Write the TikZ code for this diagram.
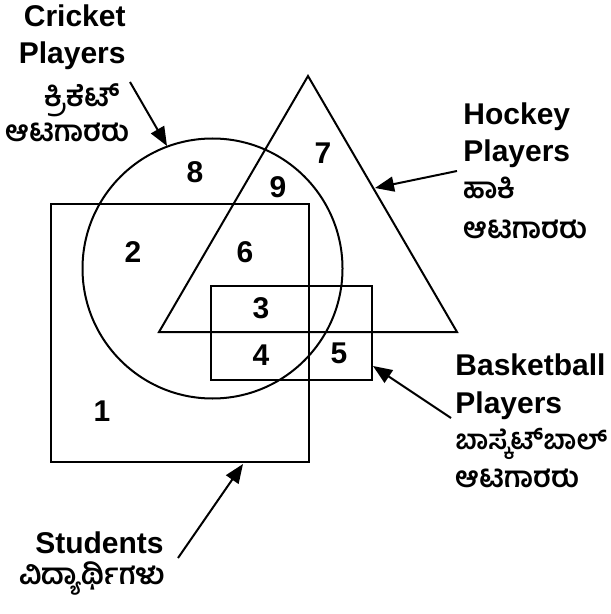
\documentclass[tikz,border=0pt]{standalone}
\usepackage{fontspec}
\setmainfont{Liberation Sans}
\newfontfamily\kanfont[Script=Kannada]{Hind Mysuru}
\usetikzlibrary{arrows.meta}

\tikzset{
  region/.style={line width=1pt},
  num/.style={font=\fontsize{15}{18}\selectfont\bfseries, inner sep=0pt},
  eng/.style={font=\fontsize{15}{18}\selectfont\bfseries, inner sep=0pt},
  kan/.style={font=\fontsize{14.5}{17}\selectfont\kanfont\bfseries, inner sep=0pt},
  pointer/.style={line width=1pt, -{Triangle[length=9.5pt,width=7.5pt]}}
}

\begin{document}
\begin{tikzpicture}[x=0.5pt,y=-0.5pt]
    \useasboundingbox (0,0) rectangle (610,614);

    % Sets
    \draw[region] (51,204) rectangle (309,462);          % students
    \draw[region] (212.5,268.5) circle[radius=130];      % cricket
    \draw[region] (308,76) -- (457,332) -- (159,332) -- cycle; % hockey
    \draw[region] (211,286) rectangle (372,380);         % basketball

    % Region numbers
    \node[num] (r1) at (102,411) {1};
    \node[num] (r2) at (133,252) {2};
    \node[num] (r3) at (261,308) {3};
    \node[num] (r4) at (261,355) {4};
    \node[num] (r5) at (339,353) {5};
    \node[num] (r6) at (245,252) {6};
    \node[num] (r7) at (323,153) {7};
    \node[num] (r8) at (195,172) {8};
    \node[num] (r9) at (278,187) {9};

    % Cricket label
    \node[eng, anchor=base east] (cricA) at (126,27) {Cricket};
    \node[eng, anchor=base east] (cricB) at (126,64) {Players};
    \node[kan, anchor=base east] (cricC) at (120,107) {ಕ್ರಿಕೆಟ್};
    \node[kan, anchor=base east] (cricD) at (130,142) {ಆಟಗಾರರು};

    % Hockey label
    \node[eng, anchor=base west] (hockA) at (463,125) {Hockey};
    \node[eng, anchor=base west] (hockB) at (463,162) {Players};
    \node[kan, anchor=base west] (hockC) at (463,199) {ಹಾಕಿ};
    \node[kan, anchor=base west] (hockD) at (463,239) {ಆಟಗಾರರು};

    % Basketball label
    \node[eng, anchor=base west] (baskA) at (455,375) {Basketball};
    \node[eng, anchor=base west] (baskB) at (455,413) {Players};
    \node[kan, font=\fontsize{13.5}{16}\selectfont\kanfont\bfseries, anchor=base west] (baskC) at (455,449) {ಬಾಸ್ಕೆಟ್^^^^200cಬಾಲ್};
    \node[kan, anchor=base west] (baskD) at (455,487) {ಆಟಗಾರರು};

    % Students label
    \node[eng, anchor=base east] (studA) at (164,553) {Students};
    \node[kan, anchor=base east] (studB) at (166,584) {ವಿದ್ಯಾರ್ಥಿಗಳು};

    % Pointers
    \coordinate (cricFrom) at (130,82);  \coordinate (cricTip) at (167,146);
    \coordinate (hockFrom) at (457,171); \coordinate (hockTip) at (375,188);
    \coordinate (baskFrom) at (451,418); \coordinate (baskTip) at (373,366);
    \coordinate (studFrom) at (178,558); \coordinate (studTip) at (243,464);
    \draw[pointer] (cricFrom) -- (cricTip);
    \draw[pointer] (hockFrom) -- (hockTip);
    \draw[pointer] (baskFrom) -- (baskTip);
    \draw[pointer] (studFrom) -- (studTip);
\end{tikzpicture}
\end{document}
